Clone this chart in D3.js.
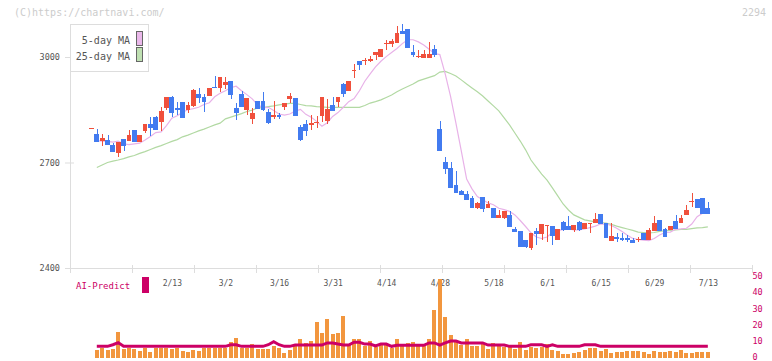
<!DOCTYPE html>
<html>
<head>
<meta charset="utf-8">
<script src="https://cdn.jsdelivr.net/npm/d3@7"></script>
<style>
    body { margin: 0; background: #fff; }
    #chart { width: 772px; height: 361px; }
    text { font-family: "DejaVu Sans Mono", monospace; }
</style>
</head>
<body>
<div id="chart"></div>
<script>

// date labels and the candle index they sit under
const dateLabels = ['2/13', '3/2', '3/16', '3/31', '4/14', '4/28', '5/18', '6/1', '6/15', '6/29', '7/13'];
const labelIndex = [15, 25, 35, 45, 55, 65, 75, 85, 95, 105, 115];

const priceTicks = [2400, 2700, 3000];
const volumeTicks = [0, 10, 20, 30, 40, 50];

// daily prices (yen)
const opens = [2797, 2781, 2762, 2763, 2749, 2728, 2766, 2762, 2792, 2759,
    2790, 2809, 2829, 2816, 2856, 2887, 2855, 2872, 2849, 2862,
    2895, 2885, 2889, 2916, 2913, 2920, 2932, 2855, 2895, 2849,
    2824, 2875, 2876, 2845, 2829, 2835, 2859, 2880, 2883, 2801,
    2810, 2808, 2813, 2832, 2818, 2864, 2872, 2923, 2903, 2960,
    2989, 2989, 2989, 3007, 3001, 3038, 3038, 3040, 3075, 3080,
    3015, 3000, 2998, 2998, 3023, 2795, 2701, 2684, 2636, 2619,
    2611, 2599, 2571, 2602, 2571, 2571, 2542, 2542, 2551, 2511,
    2505, 2480, 2457, 2505, 2497, 2520, 2519, 2480, 2531, 2519,
    2508, 2531, 2512, 2524, 2528, 2554, 2527, 2478, 2489, 2485,
    2485, 2480, 2480, 2499, 2480, 2505, 2537, 2512, 2508, 2534,
    2529, 2551, 2588, 2595, 2598, 2570];
const highs = [2797, 2794, 2780, 2777, 2755, 2758, 2766, 2792, 2792, 2778,
    2809, 2830, 2833, 2858, 2886, 2890, 2872, 2872, 2871, 2909,
    2911, 2894, 2911, 2946, 2943, 2943, 2932, 2869, 2902, 2883,
    2856, 2875, 2900, 2851, 2875, 2841, 2870, 2898, 2883, 2807,
    2821, 2835, 2832, 2886, 2881, 2886, 2886, 2926, 2932, 2980,
    2989, 2998, 3002, 3015, 3023, 3048, 3051, 3087, 3094, 3080,
    3034, 3020, 3020, 3043, 3034, 2818, 2716, 2701, 2676, 2622,
    2619, 2604, 2588, 2602, 2591, 2571, 2565, 2562, 2562, 2517,
    2505, 2480, 2500, 2514, 2525, 2522, 2519, 2511, 2534, 2548,
    2522, 2534, 2528, 2528, 2556, 2554, 2527, 2528, 2500, 2499,
    2493, 2485, 2487, 2499, 2515, 2548, 2537, 2515, 2520, 2551,
    2551, 2579, 2612, 2595, 2598, 2587];
const lows = [2797, 2759, 2748, 2749, 2731, 2715, 2733, 2762, 2759, 2758,
    2783, 2776, 2792, 2790, 2849, 2830, 2834, 2827, 2840, 2857,
    2868, 2845, 2889, 2911, 2901, 2909, 2880, 2820, 2859, 2834,
    2809, 2853, 2846, 2809, 2824, 2824, 2850, 2870, 2833, 2761,
    2776, 2792, 2798, 2815, 2810, 2847, 2858, 2886, 2903, 2940,
    2964, 2978, 2987, 2992, 3001, 3020, 3028, 3040, 3066, 3026,
    3001, 2998, 2998, 2998, 3001, 2734, 2668, 2628, 2613, 2608,
    2592, 2571, 2568, 2559, 2571, 2542, 2542, 2540, 2517, 2502,
    2460, 2457, 2451, 2466, 2480, 2474, 2466, 2480, 2505, 2508,
    2502, 2505, 2512, 2499, 2528, 2524, 2484, 2478, 2475, 2477,
    2473, 2470, 2474, 2480, 2480, 2505, 2505, 2489, 2508, 2510,
    2529, 2551, 2574, 2571, 2554, 2553];
const closes = [2797, 2759, 2770, 2749, 2731, 2758, 2747, 2778, 2759, 2778,
    2809, 2799, 2792, 2846, 2886, 2842, 2848, 2827, 2863, 2906,
    2883, 2872, 2911, 2913, 2943, 2928, 2892, 2842, 2859, 2883,
    2842, 2853, 2849, 2811, 2834, 2829, 2869, 2889, 2833, 2764,
    2790, 2811, 2816, 2886, 2852, 2847, 2886, 2895, 2932, 2962,
    2978, 2992, 2995, 3015, 3023, 3040, 3046, 3068, 3066, 3026,
    3007, 3003, 3008, 3008, 3007, 2734, 2682, 2628, 2613, 2608,
    2594, 2571, 2585, 2569, 2582, 2542, 2551, 2562, 2517, 2502,
    2460, 2460, 2500, 2497, 2525, 2522, 2491, 2511, 2508, 2508,
    2522, 2508, 2528, 2528, 2539, 2524, 2484, 2492, 2483, 2480,
    2480, 2470, 2482, 2480, 2508, 2529, 2505, 2489, 2520, 2510,
    2543, 2565, 2591, 2571, 2554, 2553];

// moving averages as drawn
const ma5 = [null, 2762, 2761, 2760, 2758, 2761, 2753, 2751, 2753, 2755,
    2764, 2774, 2785, 2787, 2805, 2826, 2833, 2843, 2850, 2853,
    2857, 2865, 2870, 2887, 2897, 2904, 2913, 2917, 2904, 2893,
    2881, 2864, 2856, 2857, 2848, 2838, 2835, 2838, 2846, 2851,
    2837, 2829, 2817, 2803, 2813, 2831, 2842, 2857, 2873, 2882,
    2904, 2931, 2952, 2972, 2988, 3001, 3013, 3024, 3038, 3049,
    3049, 3043, 3034, 3022, 3010, 3007, 2952, 2888, 2812, 2733,
    2653, 2625, 2603, 2594, 2585, 2580, 2570, 2566, 2561, 2551,
    2535, 2518, 2500, 2488, 2484, 2488, 2501, 2507, 2509, 2511,
    2508, 2508, 2511, 2515, 2519, 2525, 2525, 2521, 2513, 2504,
    2493, 2484, 2481, 2479, 2478, 2484, 2494, 2501, 2502, 2510,
    2511, 2513, 2525, 2546, 2556, 2565];
const ma25 = [null, 2686, 2693, 2700, 2704, 2707, 2711, 2716, 2720, 2726,
    2731, 2737, 2743, 2748, 2754, 2760, 2765, 2773, 2778, 2784,
    2790, 2795, 2801, 2807, 2812, 2824, 2829, 2834, 2839, 2845,
    2849, 2855, 2856, 2859, 2861, 2864, 2866, 2868, 2868, 2865,
    2862, 2861, 2859, 2858, 2857, 2857, 2857, 2857, 2857, 2857,
    2857, 2862, 2869, 2873, 2878, 2885, 2892, 2901, 2909, 2916,
    2923, 2932, 2937, 2942, 2947, 2957, 2959, 2953, 2946, 2935,
    2923, 2912, 2901, 2889, 2875, 2861, 2847, 2827, 2807, 2784,
    2761, 2736, 2707, 2687, 2667, 2650, 2628, 2605, 2582, 2565,
    2551, 2544, 2537, 2534, 2531, 2529, 2528, 2524, 2519, 2515,
    2511, 2507, 2502, 2501, 2500, 2501, 2504, 2506, 2507, 2508,
    2510, 2510, 2512, 2514, 2515, 2517];

// volume bars and AI-Predict line (right axis units)
const volumes = [null, 4.9, 6.4, 5.1, 5.6, 16.2, 5.6, 6.4, 5.6, 4.5,
    6.4, 3.7, 6.4, 6.4, 6.4, 5.6, 6.4, 4.5, 3.7, 4.9,
    4.5, 6.4, 6.4, 6.4, 6.4, 6.4, 9.9, 12.3, 6.4, 6.4,
    8.6, 5.6, 5.6, 5.6, 7.4, 6.4, 3.1, 4.9, 7.4, 11.7,
    9.3, 10.5, 22.2, 15.4, 24.1, 14.8, 15.4, 25.9, 8.0, 11.7,
    11.7, 7.4, 10.5, 6.8, 9.3, 8.6, 6.4, 11.7, 7.4, 9.3,
    9.9, 7.4, 7.4, 11.7, 29.6, 48.8, 25.3, 14.2, 10.5, 8.0,
    11.7, 7.4, 7.4, 8.6, 5.6, 9.3, 7.4, 6.8, 7.4, 5.6,
    9.9, 4.9, 6.8, 6.4, 6.8, 8.6, 4.9, 4.3, 2.5, 2.5,
    3.1, 3.7, 4.9, 6.2, 6.2, 4.3, 5.6, 3.1, 3.7, 3.7,
    4.3, 4.5, 4.3, 3.7, 2.5, 4.3, 3.7, 3.7, 4.3, 3.7,
    4.9, 3.1, 3.1, 3.7, 3.7, 3.7];
const aiPredict = [null, 7.2, 7.2, 7.2, 8.2, 9.5, 7.2, 7.2, 7.2, 7.2,
    7.2, 7.2, 7.2, 7.2, 7.2, 7.2, 7.2, 7.2, 7.2, 7.2,
    7.2, 7.2, 7.2, 7.2, 7.2, 7.2, 8.2, 8.2, 7.2, 7.2,
    7.2, 7.2, 7.2, 8.2, 10.1, 8.2, 7.2, 7.2, 8.0, 8.0,
    8.0, 8.0, 8.0, 8.0, 9.3, 9.3, 8.6, 8.0, 8.0, 9.7,
    9.7, 8.6, 8.6, 7.4, 8.6, 8.6, 7.2, 7.8, 7.8, 7.8,
    7.8, 7.8, 7.8, 9.3, 9.3, 8.0, 9.3, 10.5, 10.5, 9.3,
    9.3, 9.3, 9.3, 9.3, 8.0, 8.0, 8.0, 8.0, 7.2, 7.2,
    7.2, 7.2, 8.2, 8.2, 8.2, 7.2, 8.2, 7.2, 7.2, 7.2,
    7.2, 7.2, 8.2, 8.2, 8.2, 7.2, 7.2, 7.2, 7.2, 7.2,
    7.2, 7.2, 7.2, 7.2, 7.2, 7.2, 7.2, 7.2, 7.2, 7.2,
    7.2, 7.2, 7.2, 7.2, 7.2, 7.2];


class CandleVis {

    constructor(parentElement) {
        this.parentElement = parentElement;
        this.displayData = closes.map((c, i) => ({
            i: i, open: opens[i], high: highs[i], low: lows[i], close: c,
            vol: volumes[i], ai: aiPredict[i], ma5: ma5[i], ma25: ma25[i]
        }));

        this.upColor = '#f0503c';
        this.downColor = '#427bf0';
        this.aiColor = '#cc0066';

        this.initVis();
    }

    initVis() {
        let vis = this;

        vis.svg = d3.select('#' + vis.parentElement).append('svg')
            .attr('width', 772)
            .attr('height', 361);

        // scales: candle index -> x, price -> y, volume -> y
        vis.x = d3.scaleLinear().domain([-4, 123.24]).range([70, 752]);
        vis.y = d3.scaleLinear().domain([2400, 3000]).range([268, 57]);
        vis.yVol = d3.scaleLinear().domain([0, 50]).range([358, 277]);
        vis.gridX = d3.scaleLinear().domain([0, 11]).range([70, 752]);

        // header
        vis.svg.append('text')
            .attr('x', 14).attr('y', 15.5)
            .attr('font-size', 10).attr('fill', '#ccc')
            .text('(C)https://chartnavi.com/');
        vis.svg.append('text')
            .attr('x', 766).attr('y', 15.5)
            .attr('text-anchor', 'end')
            .attr('font-size', 10).attr('fill', '#ccc')
            .text('2294');

        // axis lines
        vis.svg.append('line')
            .attr('x1', 70.5).attr('x2', 70.5).attr('y1', 24).attr('y2', 268)
            .attr('stroke', '#ddd');
        vis.svg.append('line')
            .attr('x1', 70).attr('x2', 752).attr('y1', 268.5).attr('y2', 268.5)
            .attr('stroke', '#ddd');

        // price ticks
        let yAxis = d3.axisLeft(vis.y).tickValues(priceTicks).tickFormat(d3.format('d'))
            .tickSize(9).tickPadding(5);
        vis.svg.append('g')
            .attr('class', 'y-axis')
            .attr('transform', 'translate(74, 0)')
            .call(yAxis);

        // fixed vertical grid ticks along the bottom
        let gridAxis = d3.axisBottom(vis.gridX).tickValues(d3.range(12)).tickSize(8).tickFormat('');
        vis.svg.append('g')
            .attr('class', 'grid-axis')
            .attr('transform', 'translate(0, 265)')
            .call(gridAxis);

        // date labels
        let xAxis = d3.axisBottom(vis.x).tickValues(labelIndex)
            .tickFormat((d, k) => dateLabels[k]).tickSize(0).tickPadding(12);
        vis.svg.append('g')
            .attr('class', 'x-axis')
            .attr('transform', 'translate(0, 268)')
            .call(xAxis);

        // volume scale on the right
        let volAxis = d3.axisRight(vis.yVol).tickValues(volumeTicks).tickSize(0).tickPadding(0.5);
        vis.svg.append('g')
            .attr('class', 'vol-axis')
            .attr('transform', 'translate(752, 0)')
            .call(volAxis);

        vis.svg.selectAll('.domain').remove();
        vis.svg.selectAll('.y-axis line, .grid-axis line').attr('stroke', '#ddd');
        vis.svg.selectAll('.y-axis text').attr('font-size', 8.5).attr('fill', '#555');
        vis.svg.selectAll('.x-axis text').attr('font-size', 8).attr('fill', '#555');
        vis.svg.selectAll('.vol-axis text').attr('font-size', 8.5).attr('fill', vis.aiColor).attr('dy', '0.2em');
        vis.svg.selectAll('.y-axis text, .x-axis text, .vol-axis text')
            .attr('font-family', '"DejaVu Sans Mono", monospace');

        // legend
        let legend = vis.svg.append('g').attr('class', 'legend');
        legend.append('rect')
            .attr('x', 70.5).attr('y', 24.5).attr('width', 78).attr('height', 47)
            .attr('fill', '#fff').attr('stroke', '#ddd');
        [['5-day MA', '#eab8ea', 44], ['25-day MA', '#bfe0b2', 60]].forEach(([label, color, yy]) => {
            legend.append('text')
                .attr('x', 130).attr('y', yy)
                .attr('text-anchor', 'end')
                .attr('font-size', 10).attr('fill', '#555')
                .text(label);
            legend.append('rect')
                .attr('x', 136.5).attr('y', yy - 12.5).attr('width', 6).attr('height', 14)
                .attr('fill', color).attr('stroke', '#666');
        });

        // AI-Predict label
        vis.svg.append('text')
            .attr('x', 76).attr('y', 289)
            .attr('font-size', 9).attr('fill', vis.aiColor)
            .text('AI-Predict');
        vis.svg.append('rect')
            .attr('x', 142).attr('y', 277).attr('width', 7).attr('height', 16)
            .attr('fill', vis.aiColor);

        vis.updateVis();
    }

    updateVis() {
        let vis = this;
        let data = vis.displayData;

        // volume bars
        vis.svg.append('g').selectAll('rect')
            .data(data.filter(d => d.vol != null))
            .enter().append('rect')
            .attr('x', d => vis.x(d.i) - 2)
            .attr('y', d => vis.yVol(d.vol))
            .attr('width', 4)
            .attr('height', d => vis.yVol(0) - vis.yVol(d.vol))
            .attr('fill', '#f2963e')
            .attr('shape-rendering', 'crispEdges');

        // AI-Predict line
        let aiLine = d3.line()
            .defined(d => d.ai != null)
            .x(d => vis.x(d.i))
            .y(d => vis.yVol(d.ai));
        vis.svg.append('path')
            .datum(data)
            .attr('d', aiLine)
            .attr('fill', 'none')
            .attr('stroke', vis.aiColor)
            .attr('stroke-width', 3);

        // moving averages
        [['ma25', '#b2d9a3'], ['ma5', '#e8b2e8']].forEach(([key, color]) => {
            let line = d3.line()
                .defined(d => d[key] != null)
                .x(d => vis.x(d.i))
                .y(d => vis.y(d[key]));
            vis.svg.append('path')
                .datum(data)
                .attr('d', line)
                .attr('fill', 'none')
                .attr('stroke', color)
                .attr('stroke-width', 1.2);
        });

        // candles
        let candles = vis.svg.append('g').selectAll('g')
            .data(data)
            .enter().append('g');

        candles.append('line')
            .attr('x1', d => Math.round(vis.x(d.i)) + 0.5)
            .attr('x2', d => Math.round(vis.x(d.i)) + 0.5)
            .attr('y1', d => vis.y(d.high))
            .attr('y2', d => vis.y(d.low))
            .attr('stroke', d => d.close >= d.open ? vis.upColor : vis.downColor)
            .attr('shape-rendering', 'crispEdges');

        candles.append('rect')
            .attr('x', d => vis.x(d.i) - 2.4)
            .attr('width', 4.8)
            .attr('y', d => vis.y(Math.max(d.open, d.close)))
            .attr('height', d => Math.max(1, Math.abs(vis.y(d.open) - vis.y(d.close))))
            .attr('fill', d => d.close >= d.open ? vis.upColor : vis.downColor)
            .attr('shape-rendering', 'crispEdges');
    }
}

new CandleVis('chart');
</script>
</body>
</html>
